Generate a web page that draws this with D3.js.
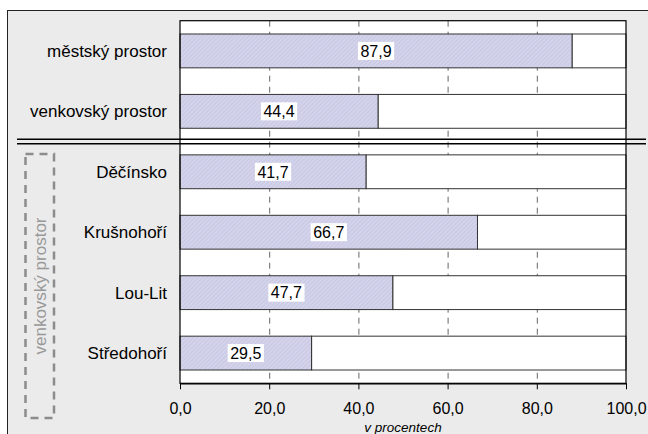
<!DOCTYPE html>
<html>
<head>
<meta charset="utf-8">
<script src="https://cdn.jsdelivr.net/npm/d3@7"></script>
<style>
  body { margin: 0; background: #fff; }
  svg { display: block; font-family: 'Liberation Sans', Arial, sans-serif; }
</style>
</head>
<body>
<div id="viz"></div>
<script>
// Data
const categories = ['městský prostor', 'venkovský prostor', 'Děčínsko', 'Krušnohoří', 'Lou-Lit', 'Středohoří'];
const values = [87.9, 44.4, 41.7, 66.7, 47.7, 29.5];
const tickValues = [0, 20, 40, 60, 80, 100];
const groupLabel = 'venkovský prostor';
const axisTitle = 'v procentech';

const width = 648;
const height = 434;
const plot = {left: 180, right: 626, top: 20.7, bottom: 383.3};

const svg = d3.select('#viz')
  .append('svg')
    .attr('width', width)
    .attr('height', height);

// hatch pattern for the filled part of the bars
const defs = svg.append('defs');
const pattern = defs.append('pattern')
    .attr('id', 'hatch')
    .attr('patternUnits', 'userSpaceOnUse')
    .attr('width', 3)
    .attr('height', 3)
    .attr('patternTransform', 'rotate(45)');
pattern.append('rect')
    .attr('width', 3).attr('height', 3)
    .attr('fill', '#d3d3eb');
pattern.append('line')
    .attr('x1', 0).attr('y1', 0).attr('x2', 0).attr('y2', 3)
    .attr('stroke', '#bdbddc')
    .attr('stroke-width', 1);

// outer grey frame
svg.append('rect')
    .attr('x', 7.5).attr('y', 10.5)
    .attr('width', 700).attr('height', 500)
    .attr('fill', '#ebebeb')
    .attr('stroke', '#222')
    .attr('stroke-width', 1);

// Scales
const xScale = d3.scaleLinear()
  .domain([0, 100])
  .range([plot.left, plot.right]);
const yScale = d3.scaleBand()
  .domain(categories)
  .range([plot.top, plot.bottom])
  .paddingInner(0.44)
  .paddingOuter(0.22);

// plot background
svg.append('rect')
    .attr('x', plot.left).attr('y', plot.top)
    .attr('width', plot.right - plot.left)
    .attr('height', plot.bottom - plot.top)
    .attr('fill', '#fff');

// dashed gridlines
svg.append('g')
    .attr('class', 'grid')
  .selectAll('line')
  .data(tickValues.slice(1, -1))
  .join('line')
    .attr('x1', d => xScale(d) + 0.5)
    .attr('x2', d => xScale(d) + 0.5)
    .attr('y1', plot.top)
    .attr('y2', plot.bottom)
    .attr('stroke', '#666')
    .attr('stroke-width', 1)
    .attr('stroke-dasharray', '6,5');

// remainder (white) part up to 100
svg.append('g')
  .selectAll('rect')
  .data(values)
  .join('rect')
    .attr('x', d => xScale(d))
    .attr('y', (d, i) => yScale(categories[i]))
    .attr('width', d => xScale(100) - xScale(d))
    .attr('height', yScale.bandwidth())
    .attr('fill', '#fff')
    .attr('stroke', '#333')
    .attr('stroke-width', 1);

// filled part
svg.append('g')
  .selectAll('rect')
  .data(values)
  .join('rect')
    .attr('x', xScale(0))
    .attr('y', (d, i) => yScale(categories[i]))
    .attr('width', d => xScale(d) - xScale(0))
    .attr('height', yScale.bandwidth())
    .attr('fill', 'url(#hatch)')
    .attr('stroke', '#333')
    .attr('stroke-width', 1);

// value labels with white box
const fmt = v => d3.format('.1f')(v).replace('.', ',');
const labels = svg.append('g')
  .selectAll('g')
  .data(values)
  .join('g')
    .attr('transform', (d, i) => `translate(${xScale(d / 2)}, ${yScale(categories[i]) + yScale.bandwidth() / 2})`);
labels.append('text')
    .attr('text-anchor', 'middle')
    .attr('dy', '0.36em')
    .style('font-size', '16px')
    .attr('fill', '#000')
    .text(fmt)
  .each(function () {
    const b = this.getBBox();
    d3.select(this.parentNode).insert('rect', 'text')
      .attr('x', b.x - 2.5).attr('y', -9)
      .attr('width', b.width + 5).attr('height', 18)
      .attr('fill', '#fff');
  });

// plot border
svg.append('rect')
    .attr('x', plot.left).attr('y', plot.top)
    .attr('width', plot.right - plot.left)
    .attr('height', plot.bottom - plot.top)
    .attr('fill', 'none')
    .attr('stroke', '#000')
    .attr('stroke-width', 1.2);

// category labels
svg.append('g')
  .selectAll('text')
  .data(categories)
  .join('text')
    .attr('x', 167)
    .attr('y', d => yScale(d) + yScale.bandwidth() / 2)
    .attr('dy', '0.36em')
    .attr('text-anchor', 'end')
    .style('font-size', '17px')
    .attr('fill', '#000')
    .text(d => d);

// x axis
const xAxis = d3.axisBottom(xScale)
  .tickValues(tickValues)
  .tickFormat(fmt)
  .tickSize(6)
  .tickSizeOuter(0)
  .tickPadding(13);
const xAxisGroup = svg.append('g')
    .attr('transform', `translate(0, ${plot.bottom})`)
    .call(xAxis);
xAxisGroup.select('.domain').attr('stroke', '#000').attr('stroke-width', 1.2);
xAxisGroup.selectAll('.tick line').attr('stroke', '#000');
xAxisGroup.selectAll('.tick text')
    .style('font-size', '16px')
    .style('font-family', "'Liberation Sans', Arial, sans-serif")
    .attr('fill', '#000');

svg.append('text')
    .attr('x', (plot.left + plot.right) / 2)
    .attr('y', 432)
    .attr('text-anchor', 'middle')
    .style('font-size', '13.5px')
    .style('font-style', 'italic')
    .attr('fill', '#000')
    .text(axisTitle);

// double separator line between the two groups
const sepY = (yScale(categories[1]) + yScale.bandwidth() + yScale(categories[2])) / 2;
[-2.2, 2.2].forEach(off => {
  svg.append('line')
      .attr('x1', 17).attr('x2', 646)
      .attr('y1', sepY + off).attr('y2', sepY + off)
      .attr('stroke', '#000')
      .attr('stroke-width', 1.5);
});

// dashed group box with rotated label
svg.append('rect')
    .attr('x', 25.5).attr('y', 154)
    .attr('width', 28.5).attr('height', 264)
    .attr('fill', 'none')
    .attr('stroke', '#8c8c8c')
    .attr('stroke-width', 2.5)
    .attr('stroke-dasharray', '8,6');
svg.append('text')
    .attr('transform', 'translate(40, 286) rotate(-90)')
    .attr('text-anchor', 'middle')
    .attr('dy', '0.36em')
    .style('font-size', '17px')
    .attr('fill', '#999')
    .text(groupLabel);
</script>
</body>
</html>
